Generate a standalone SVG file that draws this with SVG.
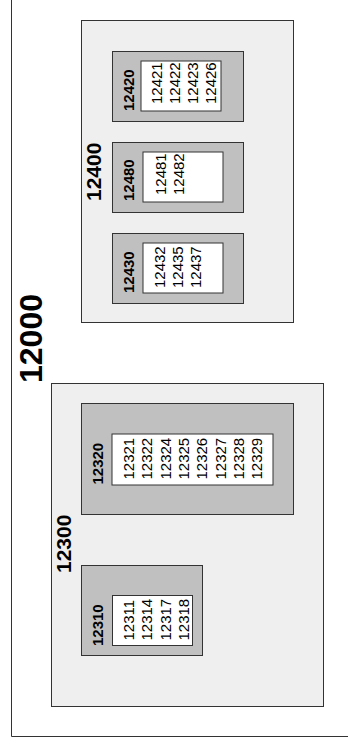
<svg xmlns="http://www.w3.org/2000/svg" width="348" height="747" viewBox="0 0 348 747">
<style>
text{font-family:"Liberation Sans",Arial,sans-serif;fill:#000}
.big{font-size:32px;font-weight:bold}
.grp{font-size:21px;font-weight:bold}
.lbl{font-size:15px;font-weight:bold}
.item{font-size:15px}
.light{fill:#efefef;stroke:#333;stroke-width:1}
.mid{fill:#c0c0c0;stroke:#333;stroke-width:1}
.inner{fill:#fff;stroke:#333;stroke-width:1}
</style>
<rect width="348" height="747" fill="#fff"/>
<g id="n12000">
<path d="M11.5,0 V736.5 H348" fill="none" stroke="#333" stroke-width="1"/>
<text class="big" transform="translate(42,383) rotate(-90)">12000</text>
</g>
<g id="n12400">
<rect class="light" x="81.5" y="20.5" width="212" height="302"/>
<text class="grp" transform="translate(100.5,201) rotate(-90)">12400</text>
</g>
<g id="n12420">
<rect class="mid" x="112.5" y="51.5" width="131" height="70"/>
<text class="lbl" transform="translate(133.5,111) rotate(-90)">12420</text>
<rect class="inner" x="141" y="61" width="80" height="50"/>
<text class="item" transform="translate(162,104) rotate(-90)">12421</text>
<text class="item" transform="translate(180,104) rotate(-90)">12422</text>
<text class="item" transform="translate(198,104) rotate(-90)">12423</text>
<text class="item" transform="translate(216,104) rotate(-90)">12426</text>
</g>
<g id="n12480">
<rect class="mid" x="112.5" y="142.5" width="131" height="70"/>
<text class="lbl" transform="translate(133.5,201) rotate(-90)">12480</text>
<rect class="inner" x="143" y="152" width="80" height="50"/>
<text class="item" transform="translate(165.5,195) rotate(-90)">12481</text>
<text class="item" transform="translate(183.5,195) rotate(-90)">12482</text>
</g>
<g id="n12430">
<rect class="mid" x="112.5" y="233.5" width="131" height="70"/>
<text class="lbl" transform="translate(133.5,293) rotate(-90)">12430</text>
<rect class="inner" x="143" y="243" width="80" height="50"/>
<text class="item" transform="translate(164.5,288) rotate(-90)">12432</text>
<text class="item" transform="translate(182.5,288) rotate(-90)">12435</text>
<text class="item" transform="translate(200.5,288) rotate(-90)">12437</text>
</g>
<g id="n12300">
<rect class="light" x="51.5" y="383.5" width="272" height="323"/>
<text class="grp" transform="translate(71,573) rotate(-90)">12300</text>
</g>
<g id="n12320">
<rect class="mid" x="81.5" y="403.5" width="212" height="111"/>
<text class="lbl" transform="translate(102.7,484.5) rotate(-90)">12320</text>
<rect class="inner" x="112" y="434" width="161" height="51"/>
<text class="item" transform="translate(134,479.5) rotate(-90)">12321</text>
<text class="item" transform="translate(152.3,479.5) rotate(-90)">12322</text>
<text class="item" transform="translate(170.7,479.5) rotate(-90)">12324</text>
<text class="item" transform="translate(189,479.5) rotate(-90)">12325</text>
<text class="item" transform="translate(207.3,479.5) rotate(-90)">12326</text>
<text class="item" transform="translate(225.7,479.5) rotate(-90)">12327</text>
<text class="item" transform="translate(244,479.5) rotate(-90)">12328</text>
<text class="item" transform="translate(262.3,479.5) rotate(-90)">12329</text>
</g>
<g id="n12310">
<rect class="mid" x="81.5" y="565.5" width="121" height="90"/>
<text class="lbl" transform="translate(102.7,646) rotate(-90)">12310</text>
<rect class="inner" x="112.5" y="595.5" width="80" height="50"/>
<text class="item" transform="translate(134,640.5) rotate(-90)">12311</text>
<text class="item" transform="translate(152.3,640.5) rotate(-90)">12314</text>
<text class="item" transform="translate(170.7,640.5) rotate(-90)">12317</text>
<text class="item" transform="translate(189,640.5) rotate(-90)">12318</text>
</g>
<g id="connectors"/>
</svg>
